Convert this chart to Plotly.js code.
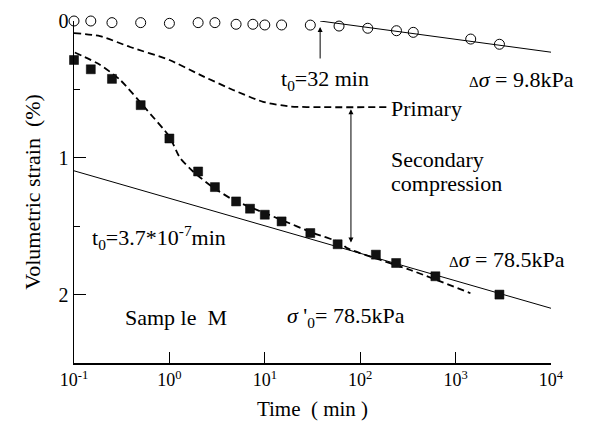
<!DOCTYPE html>
<html><head><meta charset="utf-8">
<script src="https://cdn.plot.ly/plotly-3.0.1.min.js"></script>
<style>html,body{margin:0;padding:0;background:#fff}#chart{width:591px;height:424px}</style>
</head><body><div id="chart"></div>
<script>
// Δσ = 9.8 kPa (open circles)
const timeLow = [0.1, 0.15, 0.25, 0.5, 1, 2, 3, 5, 7.5, 10, 15, 30, 60, 120, 240, 360, 1440, 2880];
const strainLow = [0, 0, 0.012, 0.012, 0.017, 0.012, 0.012, 0.024, 0.024, 0.029, 0.029, 0.03, 0.037, 0.053, 0.071, 0.083, 0.132, 0.17];
// secondary line for 9.8 kPa
const timeLineLow = [38, 10000];
const strainLineLow = [0.0, 0.228];
// primary (upper dashed) curve
const timePrimary = [0.1, 0.187, 0.387, 1.0, 2.1, 4.65, 9.6, 18.5, 40, 192];
const strainPrimary = [0.088, 0.11, 0.19, 0.285, 0.394, 0.504, 0.591, 0.625, 0.63, 0.63];
// Δσ = 78.5 kPa (filled squares)
const timeHigh = [0.1, 0.15, 0.25, 0.5, 1, 2, 3, 5, 7, 10, 15, 30, 58, 146, 238, 614, 2880];
const strainHigh = [0.285, 0.353, 0.423, 0.615, 0.859, 1.10, 1.214, 1.319, 1.372, 1.416, 1.465, 1.55, 1.632, 1.708, 1.769, 1.866, 2.0];
// fitted (lower dashed) curve
const timeFit = [0.102, 0.187, 0.304, 0.58, 1.0, 1.29, 1.77, 2.79, 4.66, 14.5, 32.2, 61.8, 72.7, 336, 1430];
const strainFit = [0.23, 0.32, 0.43, 0.65, 0.845, 1.0, 1.1, 1.21, 1.307, 1.45, 1.55, 1.62, 1.66, 1.82, 1.99];
// secondary line for 78.5 kPa
const timeLineHigh = [0.1, 10000];
const strainLineHigh = [1.095, 2.1];
// axis ticks
const xTickVals = [0.1, 1, 10, 100, 1000, 10000];
const xTickText = ['10<sup>-1</sup>', '10<sup>0</sup>', '10<sup>1</sup>', '10<sup>2</sup>', '10<sup>3</sup>', '10<sup>4</sup>'];
const yTickVals = [0, 1, 2];
const yTickText = ['0', '1', '2'];

const FONT = '"Liberation Serif", "DejaVu Serif", serif';
const dashPat = '7px,4px';
const L = Math.log10;

const traces = [
  {x: timeLineLow, y: strainLineLow, mode: 'lines', line: {color: '#000', width: 1}, cliponaxis: false},
  {x: timePrimary, y: strainPrimary, mode: 'lines', line: {color: '#000', width: 1.8, dash: dashPat, shape: 'spline', smoothing: 0.6}},
  {x: timeLineHigh, y: strainLineHigh, mode: 'lines', line: {color: '#000', width: 1}, cliponaxis: false},
  {x: timeFit, y: strainFit, mode: 'lines', line: {color: '#000', width: 1.8, dash: dashPat, shape: 'spline', smoothing: 0.6}},
  {x: timeLow, y: strainLow, mode: 'markers', cliponaxis: false,
   marker: {symbol: 'circle-open', size: 10, color: '#000', line: {width: 1, color: '#000'}}},
  {x: timeHigh, y: strainHigh, mode: 'markers', cliponaxis: false,
   marker: {symbol: 'square', size: 9, color: '#111', line: {width: 0.5, color: '#000'}}}
];

function txt(x, y, text, opts) {
  return Object.assign({x: x, y: y, xref: 'x', yref: 'y', text: text, showarrow: false,
    xanchor: 'left', yanchor: 'middle', font: {family: FONT, size: 22, color: '#000'}}, opts || {});
}

const annotations = [
  txt(1.149, 0.431, 't<sub>0</sub>=32 min'),
  txt(3.12, 0.431, '<span style="font-size:15px">Δ</span><i>σ</i> = 9.8kPa'),
  txt(2.302, 0.636, 'Primary'),
  txt(2.302, 1.016, 'Secondary'),
  txt(2.302, 1.19, 'compression'),
  txt(-0.832, 1.586, 't<sub>0</sub>=3.7*10<sup>-7</sup>min'),
  txt(2.91, 1.747, '<span style="font-size:15px">Δ</span><i>σ</i> = 78.5kPa'),
  txt(-0.486, 2.171, 'Samp le  M'),
  txt(1.212, 2.164, '<i>σ</i> \'<sub>0</sub>= 78.5kPa'),
  {x: 1.58, y: 0.044, xref: 'x', yref: 'y', axref: 'x', ayref: 'y', ax: 1.58, ay: 0.285,
   text: '', showarrow: true, arrowhead: 2, arrowsize: 1, arrowwidth: 1, arrowcolor: '#000'},
  {x: L(80), y: 1.62, xref: 'x', yref: 'y', axref: 'x', ayref: 'y', ax: L(80), ay: 0.635,
   text: '', showarrow: true, arrowhead: 2, startarrowhead: 2, arrowside: 'end+start', arrowsize: 1, arrowwidth: 1, arrowcolor: '#000'}
];

const layout = {
  width: 591, height: 424,
  margin: {l: 74, r: 40, t: 21, b: 61, pad: 0},
  paper_bgcolor: '#fff', plot_bgcolor: '#fff',
  showlegend: false,
  font: {family: FONT, size: 18, color: '#000'},
  xaxis: {
    type: 'log', range: [-1, 4], showgrid: false, zeroline: false,
    showline: true, linecolor: '#000', linewidth: 1.5,
    ticks: 'inside', ticklen: 11, tickwidth: 1, tickcolor: '#000',
    tickmode: 'array', tickvals: xTickVals, ticktext: xTickText,
    tickfont: {family: FONT, size: 18},
    title: {text: 'Time\u00a0\u00a0( min )', font: {family: FONT, size: 21}, standoff: 12}
  },
  yaxis: {
    range: [2.5, 0], showgrid: false, zeroline: false,
    showline: true, linecolor: '#000', linewidth: 1.5,
    ticks: 'inside', ticklen: 12, tickwidth: 1, tickcolor: '#000',
    tickmode: 'array', tickvals: yTickVals, ticktext: yTickText,
    minor: {tickmode: 'array', tickvals: [0.5, 1.5, 2.5], ticks: 'inside', ticklen: 6, tickwidth: 1, tickcolor: '#000'},
    tickfont: {family: FONT, size: 20},
    title: {text: 'Volumetric strain\u00a0\u00a0(%)', font: {family: FONT, size: 22}, standoff: 12}
  },
  annotations: annotations
};

Plotly.newPlot('chart', traces, layout, {displayModeBar: false, staticPlot: true});
</script></body></html>
